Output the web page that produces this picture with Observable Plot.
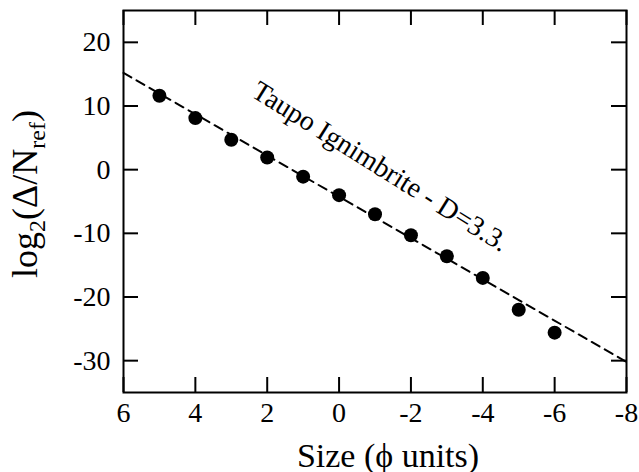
<!DOCTYPE html>
<html><head><meta charset="utf-8">
<script src="https://cdn.jsdelivr.net/npm/d3@7"></script>
<script src="https://cdn.jsdelivr.net/npm/@observablehq/plot@0.6"></script>
<style>
body{margin:0;background:#fff}
svg{display:block}
</style>
</head><body><div id="chart"></div>
<script>
const phi = [5, 4, 3, 2, 1, 0, -1, -2, -3, -4, -5, -6];
const logN = [11.6, 8.1, 4.7, 1.9, -1.1, -4.0, -7.0, -10.3, -13.6, -17.0, -22.0, -25.6];
const fitX = [6, -8];
const fitY = [15.2, -30.2];
const xTicks = [6, 4, 2, 0, -2, -4, -6, -8];
const yTicks = [20, 10, 0, -10, -20, -30];
const annotation = "Taupo Ignimbrite - D=3.3.";
const annotationAt = {x: -1.15, y: 0.5};
const xLabel = "Size (\u03d5 units)";

const points = phi.map((x, i) => ({x, y: logN[i]}));
const fit = fitX.map((x, i) => ({x, y: fitY[i]}));
const font = "Liberation Serif";
const fmt = d => String(d);

const W = 639, H = 472, mL = 123, mR = 13, mT = 10, mB = 80;
const tickLen = 15;
const frameW = W - mL - mR, frameH = H - mT - mB;
const tickStyle = {stroke: "black", strokeWidth: 2};

const plot = Plot.plot({
  width: W, height: H,
  marginLeft: mL, marginRight: mR, marginTop: mT, marginBottom: mB,
  style: {fontFamily: font, color: "black", background: "white"},
  x: {domain: [6, -8], axis: null},
  y: {domain: [-35, 25], axis: null},
  marks: [
    Plot.line(fit, {x: "x", y: "y", stroke: "black", strokeWidth: 2, strokeDasharray: "9,6"}),
    Plot.dot(points, {x: "x", y: "y", r: 7, fill: "black"}),
    Plot.text([annotation], {x: () => annotationAt.x, y: () => annotationAt.y, text: d => d, rotate: 32, fontSize: 28, fontFamily: font, fill: "black"}),
    // tick labels
    Plot.axisX({anchor: "bottom", ticks: xTicks, tickSize: 0, tickPadding: 10, tickFormat: fmt, fontSize: 28, fontFamily: font, label: null}),
    Plot.axisY({anchor: "left", ticks: yTicks, tickSize: 0, tickPadding: 13, tickFormat: fmt, fontSize: 28, fontFamily: font, label: null}),
    // inward ticks on all four sides
    Plot.tickX(xTicks, {x: d => d, insetTop: frameH - tickLen, ...tickStyle}),
    Plot.tickX(xTicks, {x: d => d, insetBottom: frameH - tickLen, ...tickStyle}),
    Plot.tickY(yTicks, {y: d => d, insetRight: frameW - tickLen, ...tickStyle}),
    Plot.tickY(yTicks, {y: d => d, insetLeft: frameW - tickLen, ...tickStyle}),
    Plot.frame({stroke: "black", strokeWidth: 2}),
    Plot.text([xLabel], {frameAnchor: "bottom", dy: 74, dx: 13, lineAnchor: "bottom", fontSize: 34, fontFamily: font, fill: "black"})
  ]
});
document.getElementById("chart").appendChild(plot);

const t = d3.select(plot).append("text")
  .attr("transform", "translate(37,194) rotate(-90)")
  .attr("text-anchor", "middle")
  .attr("font-family", font)
  .attr("font-size", 36)
  .attr("fill", "black");
t.append("tspan").text("log");
t.append("tspan").attr("font-size", 24).attr("dy", 8).text("2");
t.append("tspan").attr("dy", -8).text("(\u0394/N");
t.append("tspan").attr("font-size", 24).attr("dy", 8).text("ref");
t.append("tspan").attr("dy", -8).text(")");
</script>
</body></html>
